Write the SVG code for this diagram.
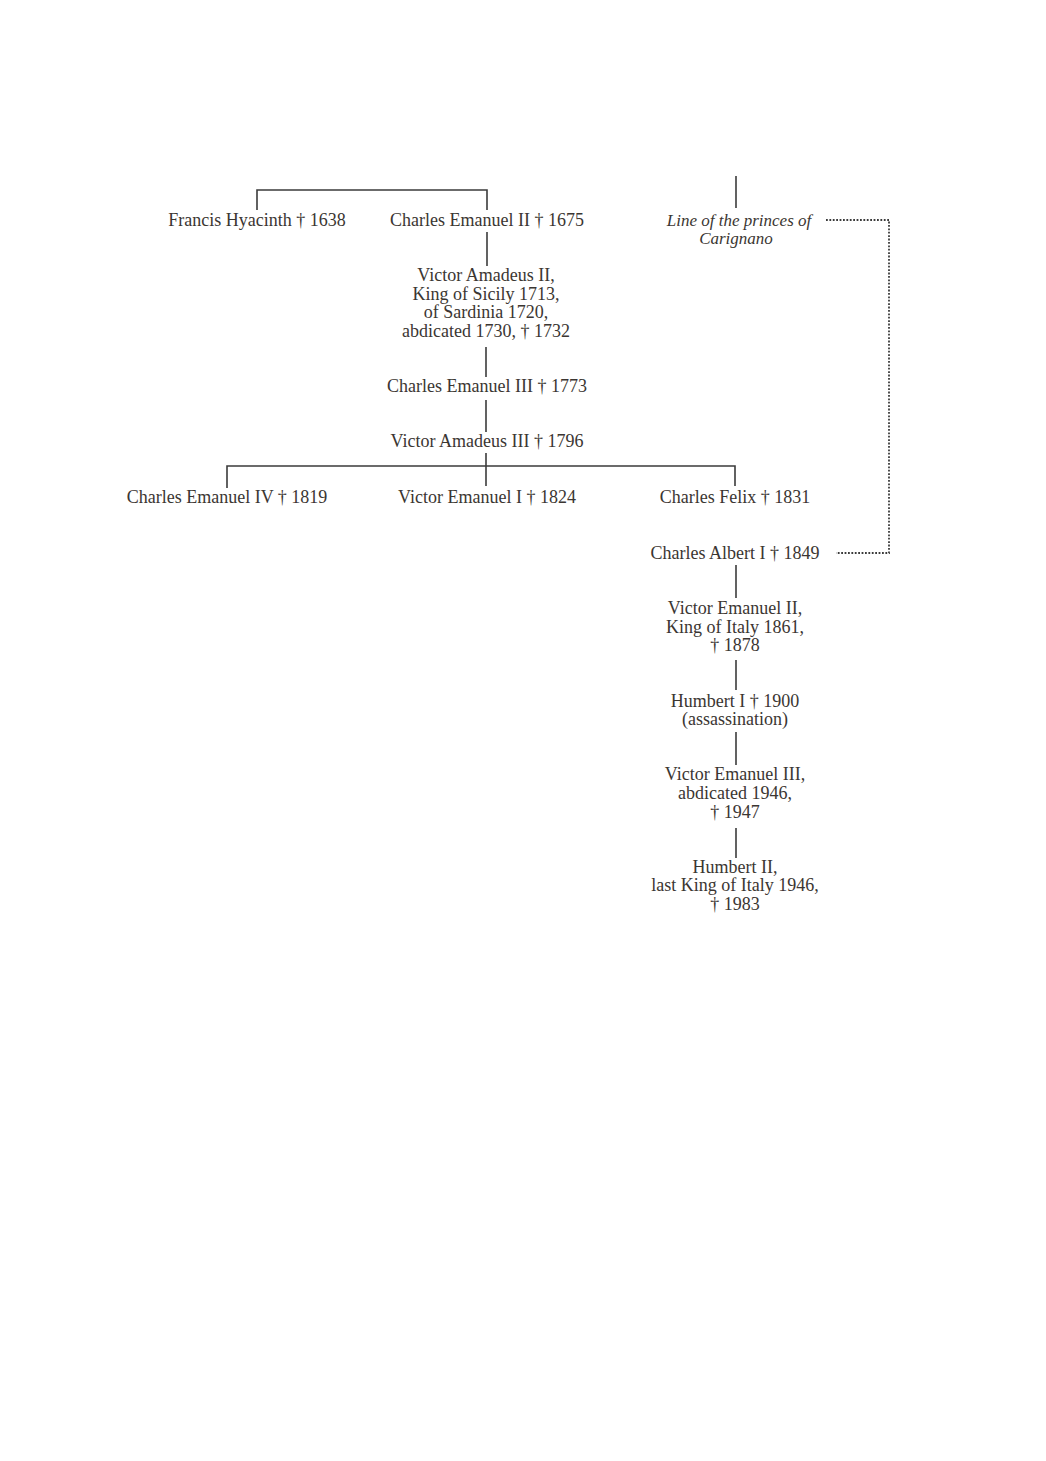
<svg xmlns="http://www.w3.org/2000/svg" width="1046" height="1461" viewBox="0 0 1046 1461">
<style>
text{font-family:"Liberation Serif","Times New Roman",serif;font-size:18px;fill:#3b3632;text-anchor:middle}
.it{font-style:italic;font-size:17px}
.ln{stroke:#3b3b3b;stroke-width:1.6;fill:none}
.dot{stroke:#3b3b3b;stroke-width:1.8;fill:none;stroke-dasharray:1.8 1.6}
</style>
<rect width="1046" height="1461" fill="#ffffff"/>
<g id="connectors">
<path class="ln" d="M257 210V190H487V210"/>
<path class="ln" d="M487 232V266"/>
<path class="ln" d="M486 347V377"/>
<path class="ln" d="M486 400V432"/>
<path class="ln" d="M486 453V486"/>
<path class="ln" d="M227 488V466H735V486"/>
<path class="ln" d="M736 176V208"/>
<path class="dot" d="M826 220H889V553H836"/>
<path class="ln" d="M736 565V598"/>
<path class="ln" d="M736 660V690"/>
<path class="ln" d="M736 732V765"/>
<path class="ln" d="M736 828V858"/>
</g>
<g id="francis"><text x="257" y="226">Francis Hyacinth † 1638</text></g>
<g id="ce2"><text x="487" y="226">Charles Emanuel II † 1675</text></g>
<g id="carignano"><text class="it" x="739" y="226">Line of the princes of</text><text class="it" x="736" y="244">Carignano</text></g>
<g id="va2"><text x="486" y="281">Victor Amadeus II,</text><text x="486" y="300">King of Sicily 1713,</text><text x="486" y="318">of Sardinia 1720,</text><text x="486" y="337">abdicated 1730, † 1732</text></g>
<g id="ce3"><text x="487" y="392">Charles Emanuel III † 1773</text></g>
<g id="va3"><text x="487" y="447">Victor Amadeus III † 1796</text></g>
<g id="ce4"><text x="227" y="503">Charles Emanuel IV † 1819</text></g>
<g id="ve1"><text x="487" y="503">Victor Emanuel I † 1824</text></g>
<g id="cf"><text x="735" y="503">Charles Felix † 1831</text></g>
<g id="ca"><text x="735" y="559">Charles Albert I † 1849</text></g>
<g id="ve2"><text x="735" y="614">Victor Emanuel II,</text><text x="735" y="633">King of Italy 1861,</text><text x="735" y="651">† 1878</text></g>
<g id="h1"><text x="735" y="707">Humbert I † 1900</text><text x="735" y="725">(assassination)</text></g>
<g id="ve3"><text x="735" y="780">Victor Emanuel III,</text><text x="735" y="799">abdicated 1946,</text><text x="735" y="818">† 1947</text></g>
<g id="h2"><text x="735" y="873">Humbert II,</text><text x="735" y="891">last King of Italy 1946,</text><text x="735" y="910">† 1983</text></g>
</svg>
